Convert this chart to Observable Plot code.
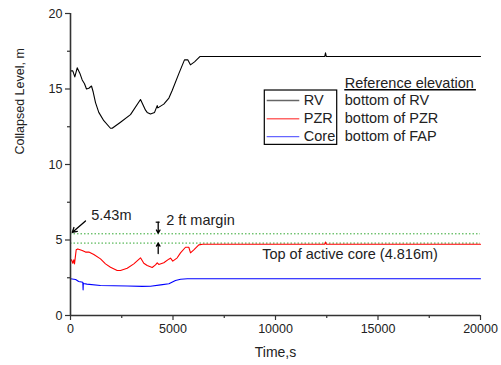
<!DOCTYPE html>
<html>
<head>
<meta charset="utf-8">
<script src="https://cdn.jsdelivr.net/npm/d3@7"></script>
<script src="https://cdn.jsdelivr.net/npm/@observablehq/plot@0.6"></script>
<style>
  html, body { margin: 0; padding: 0; background: white; }
</style>
</head>
<body>
<div id="chart"></div>
<script>
// ---- data ----
const rvTime  = [0,112,210,327,454,571,683,780,893,1024,1107,1220,1380,1624,1950,2034,2440,2927,3415,3660,3740,3900,4100,4230,4260,4550,4800,4960,5280,5560,5720,5850,6050,6310,6600,12400,12440,12480,20000];
const rvLevel = [16.2,16.2,15.8,16.4,16.05,15.6,15.35,15.0,15.05,15.2,14.8,14.1,13.45,12.9,12.4,12.4,12.8,13.3,14.3,13.6,13.45,13.35,13.45,13.9,13.75,14.0,14.4,14.9,16.0,16.93,16.93,16.6,16.8,17.15,17.15,17.15,17.4,17.15,17.15];

const pzrTime  = [0,49,112,161,195,278,356,571,732,893,1137,1463,1707,1951,2278,2439,2766,3088,3415,3576,3741,3985,4146,4229,4307,4551,4795,4878,4990,5205,5366,5610,5771,5854,6015,6259,6450,12400,12440,12480,20000];
const pzrLevel = [3.64,3.69,3.46,3.69,3.42,4.35,4.41,4.3,4.2,4.2,4.04,3.75,3.42,3.2,2.98,2.98,3.13,3.42,3.82,3.46,3.31,3.18,3.35,3.49,3.38,3.49,3.73,3.8,3.6,3.82,4.15,4.52,4.52,4.15,4.35,4.68,4.72,4.72,4.87,4.72,4.72];

const coreTime  = [0,250,400,600,615,625,640,800,1460,2770,3500,3900,4400,4800,5120,5370,5700,20000];
const coreLevel = [2.43,2.38,2.25,2.2,1.7,2.15,2.12,2.08,1.99,1.95,1.93,1.94,2.03,2.1,2.32,2.4,2.43,2.43];

const seriesNames  = ["RV", "PZR", "Core"];
const seriesRefs   = ["bottom of RV", "bottom of PZR", "bottom of FAP"];
const refLevels    = [5.43, 4.816];
const xTicks       = [0, 5000, 10000, 15000, 20000];
const xMinorTicks  = [2500, 7500, 12500, 17500];
const yTicks       = [0, 5, 10, 15, 20];
const yMinorTicks  = [2.5, 7.5, 12.5, 17.5];

// ---- layout (in data units) ----
const colors = ["#000000", "#ff0000", "#0000ff"];
const legendBox = {x1: 9478, x2: 13010, y1: 11.3, y2: 14.9};
const legendRowsY = [14.24, 13.03, 11.85];
const legendLineX = [9595, 11185];
const legendLabelX = 11380;
const refTextX = 13380;
const refTitleY = 15.38;
const FONT = "'Liberation Sans', Arial, Helvetica, sans-serif";

const lineData = (t, v) => t.map((d, i) => ({t: d, v: v[i]}));
const legendRows = seriesNames.map((n, i) => ({name: n, ref: seriesRefs[i], y: legendRowsY[i], c: colors[i]}));

const chart = Plot.plot({
  width: 501,
  height: 365,
  marginLeft: 70,
  marginRight: 21,
  marginTop: 13,
  marginBottom: 50,
  style: {fontFamily: FONT, fontSize: "12px", background: "white", color: "#222"},
  x: {domain: [0, 20000]},
  y: {domain: [0, 20]},
  marks: [
    // axes
    Plot.axisX({ticks: xTicks, tickSize: 5, tickPadding: 4, fontSize: 12.5, tickFormat: d3.format("d"), label: null, stroke: "#333", strokeWidth: 1.2}),
    Plot.axisX({ticks: xMinorTicks, tickSize: 3, tickFormat: () => "", label: null, stroke: "#333", strokeWidth: 1.2}),
    Plot.axisY({ticks: yTicks, tickSize: 5, tickPadding: 3, fontSize: 12.5, tickFormat: d3.format("d"), label: null, stroke: "#333", strokeWidth: 1.2}),
    Plot.axisY({ticks: yMinorTicks, tickSize: 3, tickFormat: () => "", label: null, stroke: "#333", strokeWidth: 1.2}),
    Plot.text(["Collapsed Level, m"], {frameAnchor: "left", text: d => d, rotate: -90, dx: -51, dy: -10, fontSize: 12.5, fill: "#222"}),
    Plot.text(["Time,s"], {frameAnchor: "bottom", text: d => d, dy: 41, fontSize: 14, fill: "#222"}),

    // reference dotted lines
    Plot.ruleY(refLevels, {stroke: "#33a833", strokeDasharray: "1.5,2", strokeWidth: 1, dy: 0.3}),

    // series
    Plot.line(lineData(rvTime, rvLevel), {x: "t", y: "v", stroke: colors[0], strokeWidth: 1.1}),
    Plot.line(lineData(pzrTime, pzrLevel), {x: "t", y: "v", stroke: colors[1], strokeWidth: 1.1}),
    Plot.line(lineData(coreTime, coreLevel), {x: "t", y: "v", stroke: colors[2], strokeWidth: 1.1}),

    // frame (left & bottom axis lines)
    Plot.ruleX([0], {stroke: "#333", strokeWidth: 1.6}),
    Plot.ruleY([0], {stroke: "#333", strokeWidth: 1.6}),

    // annotations
    Plot.text(["5.43m"], {x: 1010, y: 6.62, text: d => d, textAnchor: "start", fontSize: 14.5, fill: "#222"}),
    Plot.arrow([0], {x1: 732, y1: 6.26, x2: 83, y2: 5.5, stroke: "#000", strokeWidth: 1.3, headLength: 6}),
    Plot.text(["2 ft margin"], {x: 4668, y: 6.32, text: d => d, textAnchor: "start", fontSize: 14.5, fill: "#222"}),
    Plot.arrow([0], {x1: 4278, y1: 6.18, x2: 4278, y2: 5.45, stroke: "#000", strokeWidth: 1.3, headLength: 5}),
    Plot.ruleY([6.18], {x1: 4180, x2: 4376, stroke: "#000", strokeWidth: 1.2}),
    Plot.arrow([0], {x1: 4278, y1: 4.1, x2: 4278, y2: 4.8, stroke: "#000", strokeWidth: 1.3, headLength: 5}),
    Plot.text(["Top of active core (4.816m)"], {x: 9351, y: 4.04, text: d => d, textAnchor: "start", fontSize: 14.5, fill: "#222"}),

    // legend
    Plot.rect([legendBox], {x1: "x1", x2: "x2", y1: "y1", y2: "y2", stroke: "#000", fill: "white", strokeWidth: 1.2}),
    Plot.ruleY(legendRows, {y: "y", x1: legendLineX[0], x2: legendLineX[1], stroke: "c", strokeWidth: 1.3, strokeOpacity: 0.6}),
    Plot.text(legendRows, {x: legendLabelX, y: "y", text: "name", textAnchor: "start", fontSize: 14.5, fill: "#222"}),
    Plot.text(legendRows, {x: refTextX, y: "y", text: "ref", textAnchor: "start", fontSize: 14.5, fill: "#222"}),
    Plot.text(["Reference elevation"], {x: refTextX, y: refTitleY, text: d => d, textAnchor: "start", fontSize: 14.5, fill: "#222"}),
    Plot.ruleY([14.95], {x1: refTextX, x2: 19800, stroke: "#000", strokeWidth: 1.3})
  ]
});
document.getElementById("chart").appendChild(chart);
</script>
</body>
</html>
